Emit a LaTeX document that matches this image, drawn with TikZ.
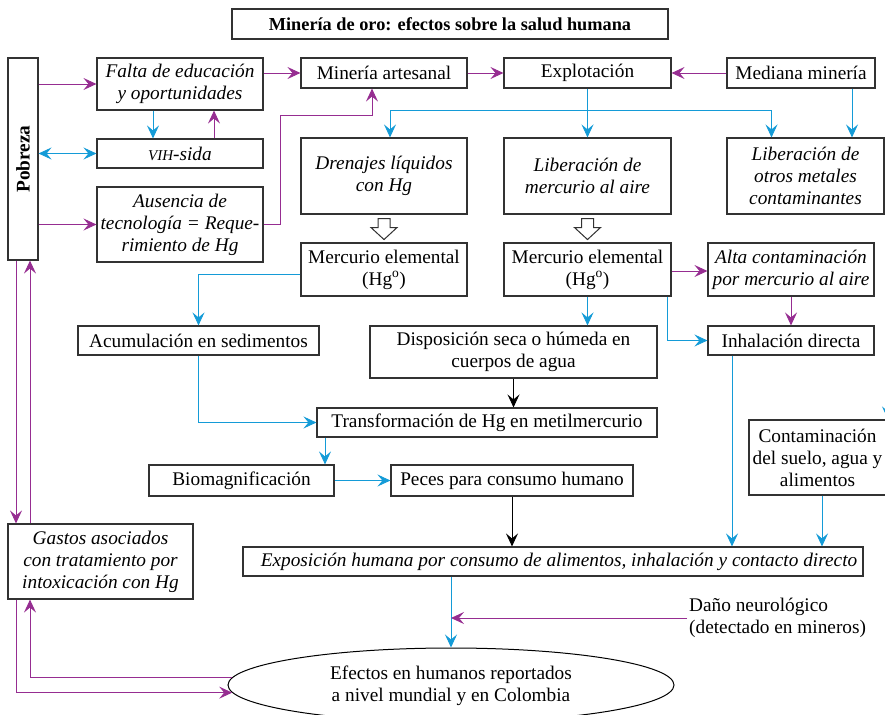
\documentclass[tikz,border=0pt]{standalone}
\usepackage{fontspec}
\setmainfont{Liberation Serif}
\usetikzlibrary{arrows.meta,shapes.geometric,calc}
\definecolor{mag}{RGB}{150,45,145}
\definecolor{sky}{RGB}{20,155,215}
\definecolor{edge}{RGB}{50,50,50}
\newcommand\bodyfont{\fontsize{19.3}{22}\selectfont}
\tikzset{
  box/.style={draw=edge, line width=1.1pt, inner sep=1pt, align=center, font=\bodyfont},
  ibox/.style={box, font=\bodyfont\itshape},
  arrowtip/.tip={Stealth[length=13pt,width=12pt,inset=5pt]},
  tip/.style={-arrowtip},
  pa/.style={tip, draw=mag, line width=0.9pt, color=mag},
  ba/.style={tip, draw=sky, line width=0.9pt, color=sky},
  ka/.style={tip, draw=black, line width=0.9pt},
  hollow/.style={draw=edge, line width=1pt, fill=white},
}
\begin{document}
\begin{tikzpicture}[x=1pt,y=-1pt]
\useasboundingbox (0,0) rectangle (885,714);
\clip (0,0) rectangle (885,714);

% title
\node[box, font=\fontsize{18.3}{22}\selectfont\bfseries, minimum width=436, minimum height=30] (title) at (450,24)
  {Minería de oro: efectos sobre la salud humana};

% left column
\node[box, minimum width=30, minimum height=202] (pob) at (23,159) {};
\node[font=\bodyfont\bfseries, rotate=90] at (pob.center) {Pobreza};
\node[ibox, minimum width=166, minimum height=52] (falta) at (180,84) {Falta de educación\\y oportunidades};
\node[ibox, minimum width=166, minimum height=29] (vih) at (180,153.5) {{\fontsize{15}{22}\selectfont VIH}-sida};
\node[ibox, minimum width=166, minimum height=75] (ause) at (180,224.5) {Ausencia de\\tecnología = Reque-\\rimiento de Hg};

% mining row
\node[box, minimum width=166, minimum height=30] (minart) at (384,73) {Minería artesanal};
\node[box, minimum width=167, minimum height=30] (explo) at (587.5,73) {Explotación};
\node[box, minimum width=148, minimum height=30] (medi) at (801,73) {Mediana minería};

% releases
\node[ibox, minimum width=166, minimum height=76] (dren) at (384,176) {Drenajes líquidos\\con Hg};
\node[ibox, minimum width=167, minimum height=76] (libm) at (587.5,176) {Liberación de\\mercurio al aire};
\node[ibox, minimum width=157, minimum height=76] (otros) at (805.5,176) {Liberación de\\otros metales\\contaminantes};

\node[box, minimum width=166, minimum height=53] (merL) at (384,269.5) {Mercurio elemental\\(Hg\textsuperscript{o})};
\node[box, minimum width=167, minimum height=53] (merR) at (587.5,269.5) {Mercurio elemental\\(Hg\textsuperscript{o})};
\node[ibox, minimum width=166, minimum height=53] (alta) at (791,269.5) {Alta contaminación\\por mercurio al aire};
\node[box, minimum width=166, minimum height=29] (inha) at (791,340.5) {Inhalación directa};

% water pathway
\node[box, minimum width=241, minimum height=29] (acum) at (198.5,340.5) {Acumulación en sedimentos};
\node[box, minimum width=287, minimum height=52] (disp) at (513.5,352) {Disposición seca o húmeda en\\cuerpos de agua};
\node[box, minimum width=340, minimum height=29] (trans) at (487,422.5) {Transformación de Hg en metilmercurio};
\node[box, minimum width=185, minimum height=31] (bio) at (241.5,480.5) {Biomagnificación};
\node[box, minimum width=242, minimum height=31] (peces) at (512,480.5) {Peces para consumo humano};
\node[box, minimum width=146, minimum height=75] (conta) at (822,457.5) {};
\node[font=\bodyfont, align=center] at (817.5,457.5) {Contaminación\\del suelo, agua y\\alimentos};

% exposure and effects
\node[box, minimum width=620, minimum height=29] (expo) at (553,561.5) {};
\node[font=\bodyfont\itshape] at (559,561.5) {Exposición humana por consumo de alimentos, inhalación y contacto directo};
\node[ibox, minimum width=185, minimum height=75] (gastos) at (100.5,561.5) {Gastos asociados\\con tratamiento por\\intoxicación con Hg};
\node[ellipse, draw=black, line width=1pt, minimum width=446, minimum height=74, inner sep=0pt] (efect) at (451,685) {};
\node[font=\bodyfont, align=center] at (451,686) {Efectos en humanos reportados\\a nivel mundial y en Colombia};
\node[font=\bodyfont, align=left, anchor=west, inner sep=2pt] (dano) at (687,618) {Daño neurológico\\(detectado en mineros)};
\coordinate (offtop) at (888,380);

% hollow block arrows
\foreach \src in {dren,libm} {
  \draw[hollow] ($(\src.south)+(-6,4)$) -- ++(12,0) -- ++(0,9) -- ++(7,0) -- ++(-13,12)
    -- ++(-13,-12) -- ++(7,0) -- cycle;
}

% poverty links
\draw[pa] (pob.east |- falta) -- (falta.west);
\draw[ba, arrowtip-arrowtip] (pob.east |- vih) -- (vih.west);
\draw[pa] (pob.east |- ause) -- (ause.west);
\draw[ba] ([xshift=-27]falta.south) -- ([xshift=-27]vih.north);
\draw[pa] ([xshift=34]vih.north) -- ([xshift=34]falta.south);
\draw[pa] (falta.east |- minart) -- (minart.west);
\draw[pa] (ause.east) -| (280,115) -| ([xshift=-12]minart.south);

% mining
\draw[pa] (minart.east) -- (explo.west);
\draw[pa] (medi.west) -- (explo.east);
\draw[ba] (explo.south) -- (libm.north);
\draw[ba] (explo.south |- 0,110) -| ([xshift=6]dren.north);
\draw[ba] (explo.south |- 0,110) -| ([xshift=-34]otros.north);
\draw[ba] ([xshift=51]medi.south) -- ([xshift=51]medi.south |- otros.north);

% mercury routes
\draw[ba] (merL.west |- 0,274) -| (acum.north);
\draw[pa] (merR.east |- 0,271) -- (alta.west |- 0,271);
\draw[ba] (merR.south) -- (merR.south |- disp.north);
\draw[ba] ([xshift=79.5]merR.south) |- (inha.west);
\draw[pa] (alta.south) -- (inha.north);
\draw[ba] (acum.south) |- (trans.west);
\draw[ka] (disp.south) -- (disp.south |- trans.north);
\draw[ba] ([xshift=-162]trans.south) -- ([xshift=-162]trans.south |- bio.north);
\draw[ba] (bio.east) -- (peces.west);
\draw[ka] (peces.south) -- (peces.south |- expo.north);
\draw[ba] ([xshift=-59]inha.south) -- ([xshift=-59]inha.south |- expo.north);
\draw[ba] (conta.south) -- (conta.south |- expo.north);
\draw[ba] (offtop) -- (offtop |- conta.north);

% effects
\draw[ba] (expo.south -| efect.north) -- (efect.north);
\draw[pa] (dano.west) -- (dano.west -| efect.north);
\draw[pa] (efect.178) -| ([xshift=-70.5]gastos.south);
\draw[pa] ([xshift=-84.5]gastos.south) |- (efect.182);
\draw[pa] ([xshift=-7]pob.south) -- ([xshift=-7]pob.south |- gastos.north);
\draw[pa] ([xshift=7]pob.south |- gastos.north) -- ([xshift=7]pob.south);
\end{tikzpicture}
\end{document}
